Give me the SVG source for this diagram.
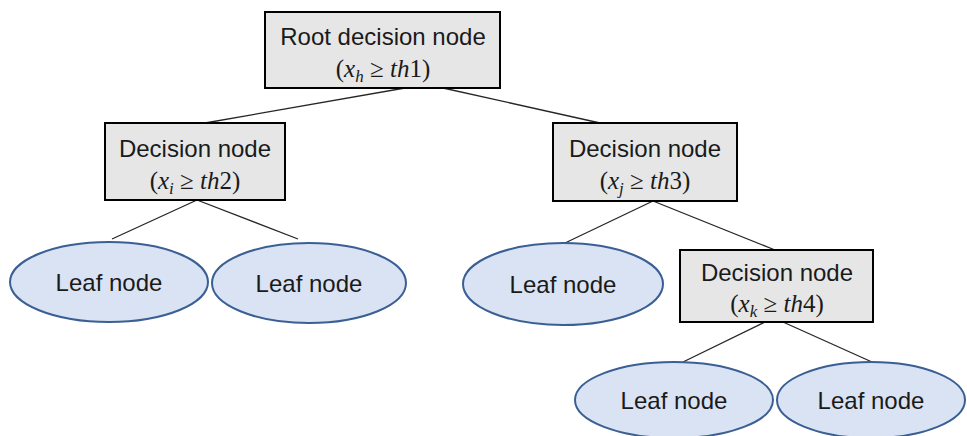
<svg xmlns="http://www.w3.org/2000/svg" width="967" height="436" viewBox="0 0 967 436">
  <style>
    .box { fill: #e7e6e6; stroke: #000; stroke-width: 2; }
    .leaf { fill: #dae3f3; stroke: #3a5f94; stroke-width: 2; }
    .edge { stroke: #262626; stroke-width: 1.3; fill: none; }
    .lbl { font-family: "Liberation Sans", Arial, sans-serif; font-size: 24px; fill: #1a1a1a; text-anchor: middle; }
    .math { font-family: "Liberation Serif", "Times New Roman", serif; font-size: 25px; fill: #1a1a1a; text-anchor: middle; }
    .it { font-style: italic; }
    .sub { font-style: italic; font-size: 17px; }
  </style>

  <!-- connectors -->
  <g id="connectors">
    <line class="edge" x1="405" y1="88" x2="205" y2="123"/>
    <line class="edge" x1="443" y1="88" x2="600" y2="123"/>
    <line class="edge" x1="197" y1="200" x2="112" y2="239"/>
    <line class="edge" x1="197" y1="200" x2="298" y2="239"/>
    <line class="edge" x1="653" y1="201" x2="565" y2="243"/>
    <line class="edge" x1="653" y1="201" x2="775" y2="250"/>
    <line class="edge" x1="765" y1="322" x2="683" y2="362"/>
    <line class="edge" x1="783" y1="322" x2="872" y2="362"/>
  </g>

  <!-- root decision node -->
  <g id="root">
    <rect class="box" x="265" y="12" width="235" height="76"/>
    <text class="lbl" x="383" y="45">Root decision node</text>
    <text class="math" x="383" y="77">(<tspan class="it">x</tspan><tspan class="sub" dy="5">h</tspan><tspan dy="-5"> ≥ </tspan><tspan class="it">th</tspan>1)</text>
  </g>

  <!-- decision node i -->
  <g id="decision-i">
    <rect class="box" x="105" y="123" width="180" height="77"/>
    <text class="lbl" x="195" y="157">Decision node</text>
    <text class="math" x="195" y="189">(<tspan class="it">x</tspan><tspan class="sub" dy="5">i</tspan><tspan dy="-5"> ≥ </tspan><tspan class="it">th</tspan>2)</text>
  </g>

  <!-- decision node j -->
  <g id="decision-j">
    <rect class="box" x="553" y="123" width="184" height="78"/>
    <text class="lbl" x="645" y="157">Decision node</text>
    <text class="math" x="645" y="189">(<tspan class="it">x</tspan><tspan class="sub" dy="5">j</tspan><tspan dy="-5"> ≥ </tspan><tspan class="it">th</tspan>3)</text>
  </g>

  <!-- decision node k -->
  <g id="decision-k">
    <rect class="box" x="680" y="250" width="193" height="72"/>
    <text class="lbl" x="777" y="281">Decision node</text>
    <text class="math" x="777" y="312">(<tspan class="it">x</tspan><tspan class="sub" dy="5">k</tspan><tspan dy="-5"> ≥ </tspan><tspan class="it">th</tspan>4)</text>
  </g>

  <!-- leaves -->
  <g id="leaf-1">
    <ellipse class="leaf" cx="109" cy="282" rx="99" ry="40"/>
    <text class="lbl" x="109" y="291">Leaf node</text>
  </g>
  <g id="leaf-2">
    <ellipse class="leaf" cx="309" cy="283" rx="97" ry="40"/>
    <text class="lbl" x="309" y="292">Leaf node</text>
  </g>
  <g id="leaf-3">
    <ellipse class="leaf" cx="563" cy="284" rx="100" ry="41"/>
    <text class="lbl" x="563" y="293">Leaf node</text>
  </g>
  <g id="leaf-4">
    <ellipse class="leaf" cx="674" cy="400" rx="99" ry="38"/>
    <text class="lbl" x="674" y="409">Leaf node</text>
  </g>
  <g id="leaf-5">
    <ellipse class="leaf" cx="871" cy="400" rx="94" ry="38"/>
    <text class="lbl" x="871" y="409">Leaf node</text>
  </g>
</svg>
